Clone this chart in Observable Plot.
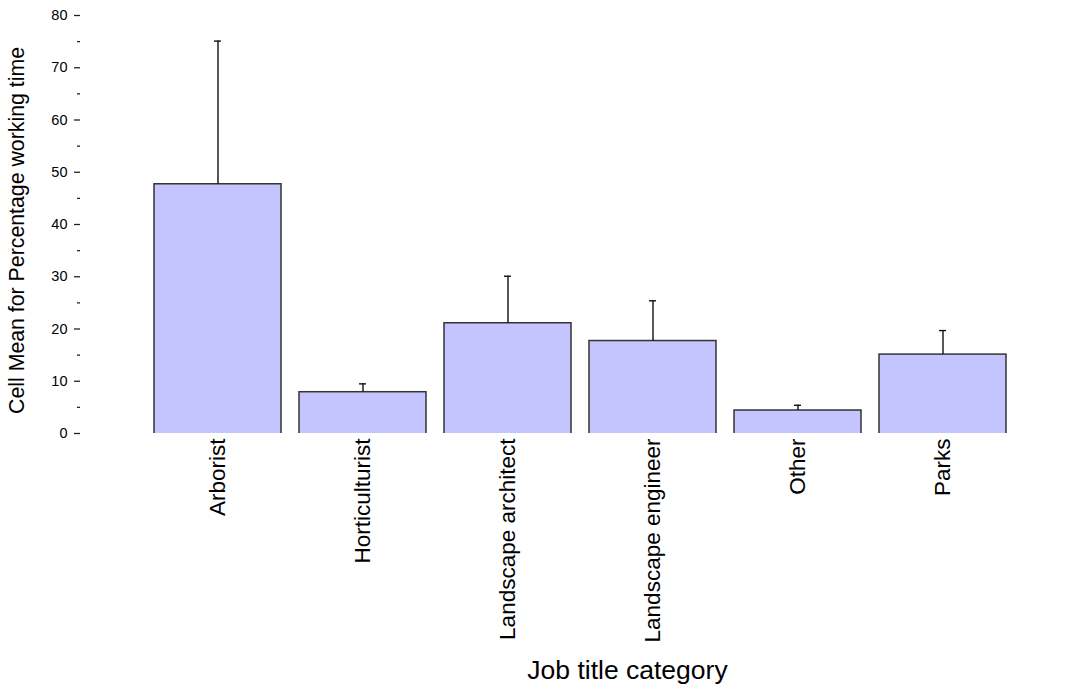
<!DOCTYPE html>
<html>
<head>
<meta charset="utf-8">
<script src="https://cdn.jsdelivr.net/npm/d3@7"></script>
<script src="https://cdn.jsdelivr.net/npm/@observablehq/plot@0.6"></script>
<style>
  html, body { margin: 0; padding: 0; background: #fff; }
  #chart svg { display: block; }
</style>
</head>
<body>
<div id="chart"></div>
<script>
// Job title categories
const categories = ["Arborist", "Horticulturist", "Landscape architect", "Landscape engineer", "Other", "Parks"];
// Cell mean of percentage working time
const means = [47.7, 7.9, 21.1, 17.7, 4.4, 15.1];
// Upper end of the error bar
const uppers = [75.1, 9.5, 30.1, 25.4, 5.4, 19.7];
// Y axis ticks
const majorTicks = [0, 10, 20, 30, 40, 50, 60, 70, 80];
const minorTicks = [5, 15, 25, 35, 45, 55, 65, 75];

const xTitle = "Job title category";
const yTitle = "Cell Mean for Percentage working time";

const rows = categories.map((c, i) => ({category: c, mean: means[i], upper: uppers[i]}));

const chart = Plot.plot({
  width: 1076,
  height: 691,
  marginTop: 15,
  marginBottom: 258,
  marginLeft: 80,
  marginRight: 52,
  style: {fontFamily: "'Liberation Sans', Arial, sans-serif", color: "#000", background: "#fff"},
  x: {domain: categories, padding: 0.124, insetLeft: 56},
  y: {domain: [0, 80]},
  marks: [
    Plot.barY(rows, {
      x: "category", y: "mean",
      fill: "#c4c4ff", stroke: "#333", strokeWidth: 1.5,
      insetBottom: -4, clip: "frame"
    }),
    Plot.ruleX(rows, {x: "category", y1: "mean", y2: "upper", stroke: "#111", strokeWidth: 1.4}),
    Plot.tickY(rows, {x: "category", y: "upper", stroke: "#111", strokeWidth: 1.4, insetLeft: 60, insetRight: 60}),
    Plot.axisY({ticks: majorTicks, tickSize: 6, tickPadding: 7, fontSize: 14.5, stroke: "#222", strokeWidth: 1.3, label: null}),
    Plot.axisY({ticks: minorTicks, tickSize: 3, text: null, stroke: "#222", strokeWidth: 1.3, label: null}),
    Plot.axisX({tickSize: 0, tickPadding: 5, tickRotate: -90, fontSize: 22.5, label: null}),
    Plot.text([yTitle], {frameAnchor: "left", textAnchor: "middle", dx: -63, dy: 6, rotate: -90, fontSize: 21.3, lineAnchor: "middle"}),
    Plot.text([xTitle], {frameAnchor: "bottom", dx: 75, dy: 245, fontSize: 26.5, lineAnchor: "bottom"})
  ]
});

document.getElementById("chart").appendChild(chart);
</script>
</body>
</html>
